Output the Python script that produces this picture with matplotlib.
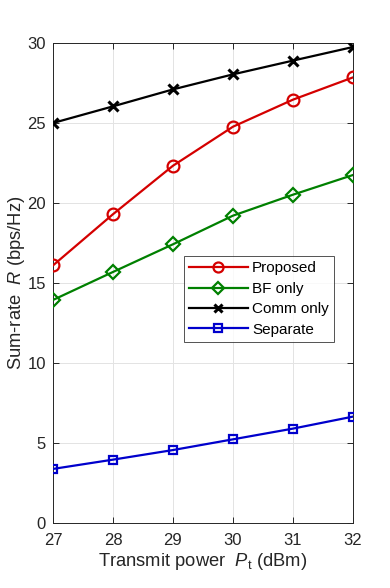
import matplotlib
matplotlib.use("Agg")
import matplotlib.pyplot as plt

plt.rcParams['font.family'] = ['Liberation Sans', 'DejaVu Sans']
plt.rcParams['mathtext.fontset'] = 'custom'
plt.rcParams['mathtext.rm'] = 'Liberation Sans'
plt.rcParams['mathtext.it'] = 'Liberation Sans:italic'

power = [27, 28, 29, 30, 31, 32]
proposed = [16.1, 19.3, 22.33, 24.77, 26.46, 27.85]
bf_only = [13.94, 15.69, 17.42, 19.21, 20.52, 21.75]
comm_only = [25.0, 26.04, 27.1, 28.04, 28.9, 29.75]
separate = [3.38, 3.96, 4.56, 5.23, 5.9, 6.65]

xticks = [27, 28, 29, 30, 31, 32]
yticks = [0, 5, 10, 15, 20, 25, 30]

fig = plt.figure(figsize=(3.9, 5.88), dpi=100)
ax = fig.add_axes([53/390, 65/588, 300/390, 480/588])

ax.plot(power, proposed, color='#d40000', lw=1.6, marker='o', ms=8.5,
        mfc='none', mew=1.6, label='Proposed', zorder=3)
ax.plot(power, bf_only, color='#008000', lw=1.6, marker='D', ms=7.5,
        mfc='none', mew=1.6, label='BF only', zorder=3)
ax.plot(power, comm_only, color='black', lw=1.6, marker='x', ms=6.5,
        mew=2.2, label='Comm only', zorder=3)
ax.plot(power, separate, color='#0000cc', lw=1.6, marker='s', ms=6,
        mfc='none', mew=1.6, label='Separate', zorder=3)

ax.set_xlim(27, 32)
ax.set_ylim(0, 30)
ax.set_xticks(xticks)
ax.set_yticks(yticks)
ax.grid(True, color='#e3e3e3', lw=0.7)
ax.set_axisbelow(True)
for s in ax.spines.values():
    s.set_color('#262626')
    s.set_linewidth(0.7)
ax.tick_params(direction='in', length=4, width=0.7, top=True, right=True,
               labelsize=12, colors='#262626')
ax.tick_params(axis='x', pad=7)
ax.tick_params(axis='y', pad=5)

ax.set_xlabel(r'Transmit power  $P_{\rm t}$ (dBm)', fontsize=13.2, color='#262626', labelpad=2)
ax.set_ylabel(r'Sum-rate  $R$ (bps/Hz)', fontsize=13.2, color='#262626', labelpad=0)

leg = ax.legend(loc='upper left', bbox_to_anchor=(0.437, 0.556), fontsize=11,
                frameon=True, fancybox=False, edgecolor='#262626',
                handlelength=3.8, borderpad=0.35, labelspacing=0.42,
                handletextpad=0.3, borderaxespad=0)
leg.get_frame().set_linewidth(0.7)
for h in leg.legend_handles:
    h.set_markersize(h.get_markersize() * 0.85)

fig.savefig('out.png', dpi=100)
